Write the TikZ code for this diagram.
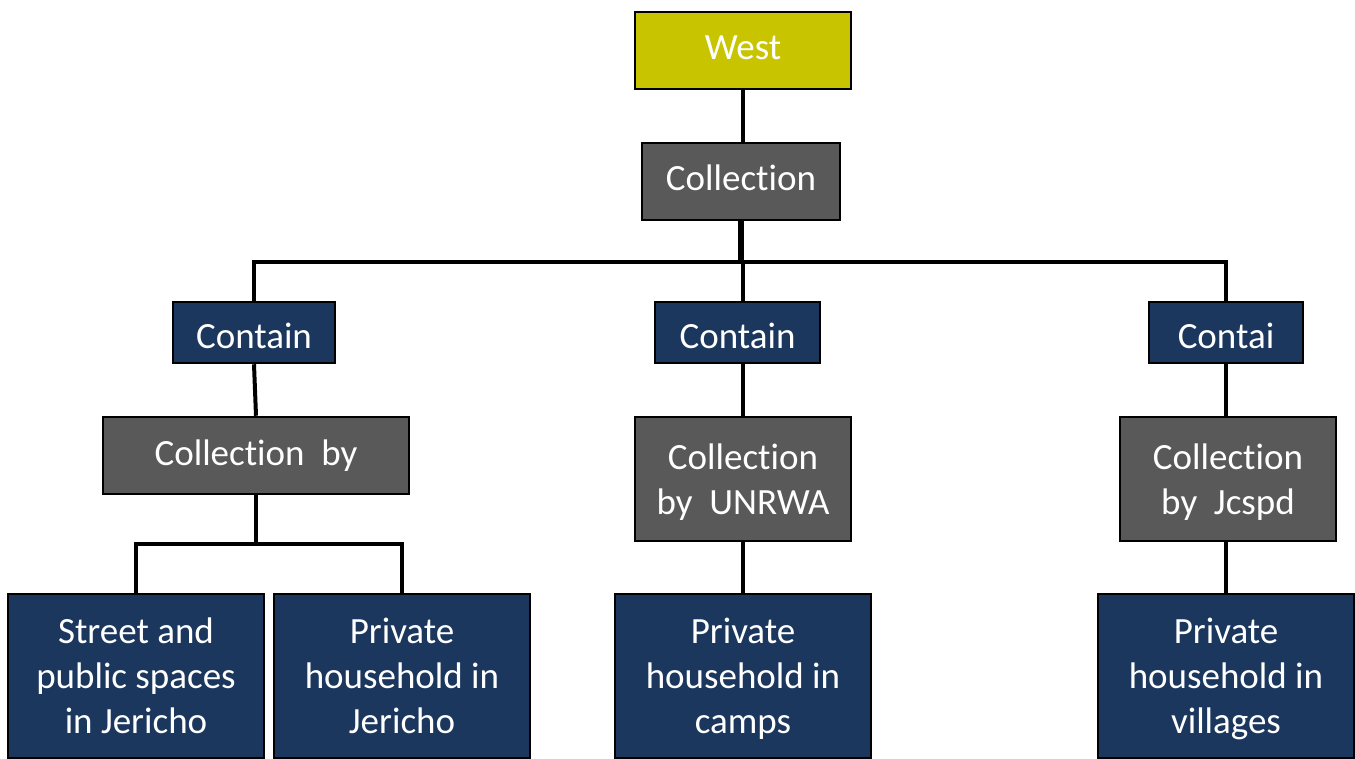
\documentclass[tikz,border=0pt]{standalone}
\usepackage{fontspec}
\setmainfont[Ligatures={NoCommon}]{Carlito}
\newcommand{\firstln}{\vphantom{Pd}}
\begin{document}
\begin{tikzpicture}[x=1pt,y=-1pt,
  box/.style={draw=black,line width=2.5pt,text=white,align=center,inner sep=0pt,
    font=\fontsize{37}{45}\selectfont},
  yel/.style={box,fill=topyel},
  gry/.style={box,fill=midgray},
  nav/.style={box,fill=navy},
  conn/.style={draw=black,line width=4pt}]
\definecolor{topyel}{HTML}{C8C400}
\definecolor{midgray}{HTML}{595959}
\definecolor{navy}{HTML}{1B375E}
\useasboundingbox (0,0) rectangle (1355,759);
% nodes
\node[yel,minimum width=216pt,minimum height=77pt,text depth=6pt] (west) at (743,50.5) {West};
\node[gry,minimum width=198pt,minimum height=77pt,text depth=8pt] (coll) at (741,181.5) {Collection};
\node[nav,minimum width=162pt,minimum height=61pt,text height=32pt,text depth=0pt] (cL) at (254,332.5) {Contain};
\node[nav,minimum width=165pt,minimum height=61pt,text height=32pt,text depth=0pt] (cM) at (737.5,332.5) {Contain};
\node[nav,minimum width=154pt,minimum height=61pt,text height=32pt,text depth=0pt] (cR) at (1226,332.5) {Contai};
\node[gry,minimum width=306pt,minimum height=77pt] (gL) at (256,455.5) {Collection~~by};
\node[gry,minimum width=216pt,minimum height=124pt] (gM) at (743,479) {\firstln Collection\\\smash{by~~UNRWA}};
\node[gry,minimum width=216pt,minimum height=124pt] (gR) at (1228,479) {\firstln Collection\\\smash{by~~Jcspd}};
\node[nav,minimum width=256pt,minimum height=164pt] (b1) at (136,676) {\firstln Street and\\public spaces\\\smash{in Jericho}};
\node[nav,minimum width=256pt,minimum height=164pt] (b2) at (402,676) {\firstln Private\\household in\\\smash{Jericho}};
\node[nav,minimum width=256pt,minimum height=164pt] (b3) at (743,676) {\firstln Private\\household in\\\smash{camps}};
\node[nav,minimum width=256pt,minimum height=164pt] (b4) at (1226,676) {\firstln Private\\household in\\\smash{villages}};
% junctions
\coordinate (jTop) at (741,262);
\coordinate (jL) at (256,544);
% connectors
\draw[conn] (west.south) -- (west.south |- coll.north);
\draw[conn,line width=6pt] (coll.south) -- (jTop);
\draw[conn] (cL.north) |- (jTop) -| (cR.north);
\draw[conn] (jTop) ++(2,0) -- ++(0,40);
\draw[conn] (cL.south) -- (gL.north);
\draw[conn] (cM.south -| gM.north) -- (gM.north);
\draw[conn] (cR.south) -- (cR.south |- gR.north);
\draw[conn] (gL.south) -- (jL);
\draw[conn] (b1.north) |- (jL) -| (b2.north);
\draw[conn] (gM.south) -- (b3.north);
\draw[conn] (gR.south -| cR.south) -- (b4.north);
\end{tikzpicture}
\end{document}
